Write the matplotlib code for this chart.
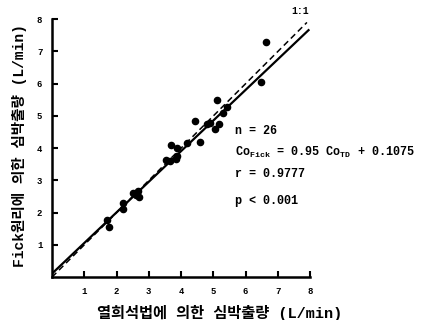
import numpy as np
import matplotlib
matplotlib.use('Agg')
import matplotlib.pyplot as plt

plt.rcParams['font.family'] = ['Liberation Mono', 'Noto Sans CJK KR']
plt.rcParams['mathtext.fontset'] = 'custom'
plt.rcParams['mathtext.rm'] = 'Liberation Mono:bold'
plt.rcParams['mathtext.it'] = 'Liberation Mono:bold'
plt.rcParams['mathtext.bf'] = 'Liberation Mono:bold'

# cardiac output, thermodilution (x) vs Fick (y), L/min
co_td = [1.72, 1.77, 2.21, 2.19, 2.52, 2.67, 2.69, 2.60, 3.53, 3.65, 3.88, 3.84, 3.68,
         3.88, 4.17, 4.60, 4.43, 4.79, 4.89, 5.05, 5.18, 5.10, 5.30, 5.41, 6.49, 6.63]
co_fick = [1.78, 1.57, 2.30, 2.11, 2.61, 2.66, 2.47, 2.55, 3.64, 3.59, 3.75, 3.67, 4.09,
           4.01, 4.17, 4.18, 4.84, 4.74, 4.79, 4.58, 4.74, 5.48, 5.10, 5.29, 6.05, 7.28]

slope = 0.95
intercept = 0.1075
ticks = [1, 2, 3, 4, 5, 6, 7, 8]

fig = plt.figure(figsize=(4.31, 3.2), dpi=100)
ax = fig.add_axes([0.1206, 0.134, 0.599, 0.806])

ax.scatter(co_td, co_fick, s=20, color='black', zorder=3)

xl = np.array([0.0, 7.95])
ax.plot(xl, slope * xl + intercept, color='black', lw=1.6)
xd = np.array([0.0, 7.9])
ax.plot(xd, xd, color='black', lw=1.1, ls=(0, (4, 2.5)))
ax.text(7.7, 8.1, '1:1', fontsize=7, fontweight='bold', ha='center', va='bottom')

ax.set_xlim(0, 8)
ax.set_ylim(0, 8)
ax.set_xticks(ticks)
ax.set_yticks(ticks)
ax.tick_params(direction='in', length=4, width=1.5, labelsize=6.5, pad=7)
for lab in ax.get_xticklabels() + ax.get_yticklabels():
    lab.set_fontweight('bold')
for s in ['top', 'right']:
    ax.spines[s].set_visible(False)
for s in ['left', 'bottom']:
    ax.spines[s].set_linewidth(1.8)

ax.set_xlabel('열희석법에 의한 심박출량 (L/min)', fontsize=11, fontweight='bold', va='center')
ax.xaxis.set_label_coords(0.65, -0.14)
ax.set_ylabel('Fick원리에 의한 심박출량 (L/min)', fontsize=10.5, fontweight='bold', va='center')
ax.yaxis.set_label_coords(-0.124, 0.51)

tx = 5.67
fs = 8.5
ax.text(tx, 4.53, 'n = 26', fontsize=fs, fontweight='bold', va='center')
ax.text(tx, 3.88, r'Co$_{Fick}$ = 0.95 Co$_{TD}$ + 0.1075', fontsize=fs, fontweight='bold', va='center')
ax.text(tx, 3.2, 'r = 0.9777', fontsize=fs, fontweight='bold', va='center')
ax.text(tx, 2.36, 'p < 0.001', fontsize=fs, fontweight='bold', va='center')

fig.savefig('out.png', dpi=100)
